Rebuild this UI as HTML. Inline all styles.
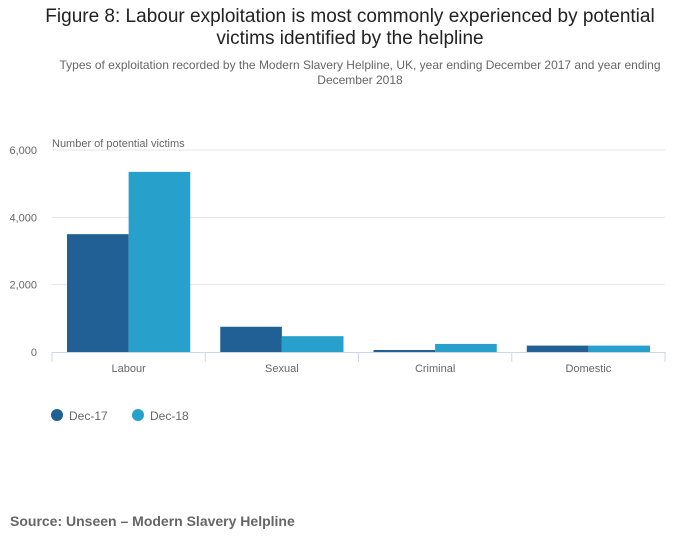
<!DOCTYPE html>
<html><head><meta charset="utf-8">
<style>
body{margin:0;background:#fff;font-family:"Liberation Sans",sans-serif;}
#wrap{position:relative;width:700px;height:549px;overflow:hidden}
.t{position:absolute;left:0;width:700px;text-align:center;color:#222}
</style></head><body>
<div id="wrap">
<div class="t" style="top:6px;font-size:19px;line-height:22px;color:#222">Figure 8: Labour exploitation is most commonly experienced by potential<br>victims identified by the helpline</div>
<div class="t" style="top:58px;font-size:12px;line-height:15px;color:#666;left:10px">Types of exploitation recorded by the Modern Slavery Helpline, UK, year ending December 2017 and year ending<br>December 2018</div>
<svg id="chart" width="700" height="549" style="position:absolute;left:0;top:0"></svg>
<div style="position:absolute;left:10px;top:513px;font-size:14px;font-weight:bold;color:#666">Source: Unseen – Modern Slavery Helpline</div>
</div>
<script>
const categories=["Labour","Sexual","Criminal","Domestic"];
const dec17=[3500,750,60,190];
const dec18=[5350,470,240,190];
const yTicks=[0,2000,4000,6000];
const yTickLabels=["0","2,000","4,000","6,000"];
const seriesNames=["Dec-17","Dec-18"];
const colors=["#206095","#27a0cc"];
const NS="http://www.w3.org/2000/svg";
const svg=document.getElementById('chart');
const x0=52,x1=665,y0=352,yTop=150,yMax=6000;
const yS=v=>y0-(v/yMax)*(y0-yTop);
const bw=(x1-x0)/categories.length;
function mk(t,a,p){const e=document.createElementNS(NS,t);for(const k in a)e.setAttribute(k,a[k]);(p||svg).appendChild(e);return e;}
yTicks.forEach((v,i)=>{
 if(v>0){const l=mk('line',{x1:x0,x2:x1,y1:yS(v),y2:yS(v),stroke:'#e6e6e6'});
 
 }
 const t=mk('text',{x:37,y:yS(v)+4,'text-anchor':'end','font-size':11,fill:'#666'});
 
 
 t.textContent=yTickLabels[i];
});
const yt=mk('text',{x:x0,y:147,'font-size':11,fill:'#666'});


yt.textContent="Number of potential victims";
const pad=15,bwid=(bw-2*pad)/2;
[dec17,dec18].forEach((s,si)=>{
 s.forEach((v,i)=>{
  const r=mk('rect',{x:x0+i*bw+pad+si*bwid,y:yS(v),width:bwid,height:y0-yS(v),fill:colors[si]});
  
  
 });
});
const ax=mk('line',{x1:x0,x2:x1,y1:y0+0.5,y2:y0+0.5,stroke:'#ccd6eb'});


for(let i=0;i<=categories.length;i++){
 const tk=mk('line',{x1:x0+i*bw,x2:x0+i*bw,y1:y0,y2:y0+10,stroke:'#ccd6eb'});
 
 
}
categories.forEach((c,i)=>{
 const t=mk('text',{x:x0+i*bw+bw/2,y:372,'text-anchor':'middle','font-size':11,fill:'#666'});
 
 
 t.textContent=c;
});
seriesNames.forEach((n,i)=>{
 const g=mk('g',{});
 
 
 mk('circle',{cx:57+i*81,cy:415,r:6,fill:colors[i]},g);
 const t=mk('text',{x:69+i*81,y:420,'font-size':12,fill:'#666'},g);
 t.textContent=n;
});
</script>
</body></html>
